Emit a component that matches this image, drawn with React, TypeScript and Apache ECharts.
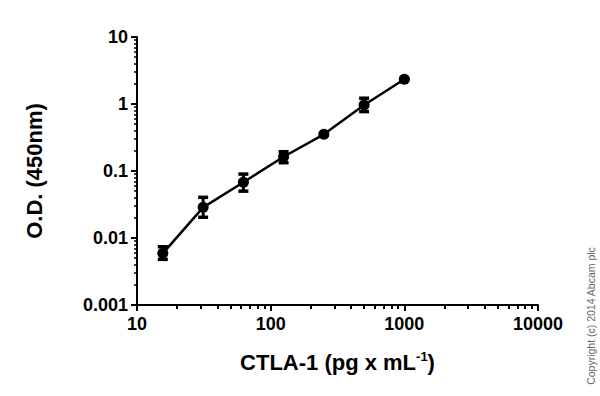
import React, { useEffect, useRef } from "react";
import * as echarts from "echarts";

const concentrations = [15.6, 31.25, 62.5, 125, 250, 500, 1000];
const odValues = [0.0059, 0.0287, 0.0678, 0.163, 0.353, 0.966, 2.34];
const errLow = [0.0048, 0.0204, 0.05, 0.133, 0.34, 0.77, 2.28];
const errHigh = [0.0074, 0.0405, 0.09, 0.194, 0.366, 1.22, 2.4];

const xMajorTicks = [10, 100, 1000, 10000];
const yMajorTicks = [0.001, 0.01, 0.1, 1, 10];

const minorBetween = (majors: number[]) => {
  const out: number[] = [];
  for (let i = 0; i < majors.length - 1; i++) {
    for (let k = 2; k <= 9; k++) out.push(Number((majors[i] * k).toPrecision(3)));
  }
  return out;
};

const FONT = "'Liberation Sans', Arial, sans-serif";

export default function App() {
  const ref = useRef<HTMLDivElement>(null);
  useEffect(() => {
    if (!ref.current) return;
    const chart = echarts.init(ref.current, undefined, { renderer: "svg" });
    const fmt = (v: number) => String(Number(Number(v).toPrecision(3)));
    const errData = concentrations.map((c, i) => [c, odValues[i], errLow[i], errHigh[i]]);
    chart.setOption({
      animation: false,
      backgroundColor: "#ffffff",
      grid: { left: 137, right: 62, top: 37, bottom: 91 },
      xAxis: [
        {
          type: "log",
          logBase: 10,
          min: 10,
          max: 10000,
          name: "{a|CTLA-1 (pg x mL}{s|-1}{a|)}",
          nameLocation: "middle",
          nameGap: 45,
          nameTextStyle: {
            rich: {
              a: { fontFamily: FONT, fontWeight: "bold", fontSize: 22, color: "#000" },
              s: { fontFamily: FONT, fontWeight: "bold", fontSize: 13, color: "#000", padding: [0, 0, 12, 0] },
            },
          },
          axisLine: { lineStyle: { color: "#000", width: 2 } },
          axisTick: { show: true, length: 6, lineStyle: { color: "#000", width: 2 }, customValues: xMajorTicks },
          axisLabel: {
            customValues: xMajorTicks,
            formatter: fmt,
            margin: 10,
            fontFamily: FONT,
            fontWeight: "bold",
            fontSize: 18,
            color: "#000",
          },
          splitLine: { show: false },
        },
        {
          type: "log",
          logBase: 10,
          min: 10,
          max: 10000,
          position: "bottom",
          axisLine: { show: false },
          axisTick: { show: true, length: 4, lineStyle: { color: "#000", width: 2 }, customValues: minorBetween(xMajorTicks) },
          axisLabel: { show: false },
          splitLine: { show: false },
        },
      ],
      yAxis: [
        {
          type: "log",
          logBase: 10,
          min: 0.001,
          max: 10,
          name: "O.D. (450nm)",
          nameLocation: "middle",
          nameRotate: 90,
          nameGap: 92,
          nameTextStyle: { fontFamily: FONT, fontWeight: "bold", fontSize: 22, color: "#000" },
          axisLine: { show: true, lineStyle: { color: "#000", width: 2 } },
          axisTick: { show: true, length: 6, lineStyle: { color: "#000", width: 2 }, customValues: yMajorTicks },
          axisLabel: {
            customValues: yMajorTicks,
            formatter: fmt,
            margin: 9,
            fontFamily: FONT,
            fontWeight: "bold",
            fontSize: 18,
            color: "#000",
          },
          splitLine: { show: false },
        },
        {
          type: "log",
          logBase: 10,
          min: 0.001,
          max: 10,
          position: "left",
          axisLine: { show: false },
          axisTick: { show: true, length: 3, lineStyle: { color: "#000", width: 1.5 }, customValues: minorBetween(yMajorTicks) },
          axisLabel: { show: false },
          splitLine: { show: false },
        },
      ],
      series: [
        {
          type: "line",
          data: concentrations.map((c, i) => [c, odValues[i]]),
          symbol: "circle",
          symbolSize: 11,
          itemStyle: { color: "#000" },
          lineStyle: { color: "#000", width: 2.5 },
          z: 3,
        },
        {
          type: "custom",
          data: errData,
          z: 4,
          renderItem: (params: any, api: any) => {
            const x = api.value(0);
            const lo = api.coord([x, api.value(2)]);
            const hi = api.coord([x, api.value(3)]);
            const hw = 5;
            const style = { stroke: "#000", lineWidth: 3 };
            return {
              type: "group",
              children: [
                { type: "line", shape: { x1: lo[0], y1: lo[1], x2: hi[0], y2: hi[1] }, style },
                { type: "line", shape: { x1: lo[0] - hw, y1: lo[1], x2: lo[0] + hw, y2: lo[1] }, style: { stroke: "#000", lineWidth: 3.5 } },
                { type: "line", shape: { x1: hi[0] - hw, y1: hi[1], x2: hi[0] + hw, y2: hi[1] }, style: { stroke: "#000", lineWidth: 3.5 } },
              ],
            };
          },
        },
      ],
      graphic: [
        {
          type: "text",
          x: 591,
          y: 316,
          rotation: Math.PI / 2,
          style: {
            text: "Copyright (c) 2014 Abcam plc",
            fontFamily: FONT,
            fontSize: 10.5,
            fill: "#666",
            align: "center",
            verticalAlign: "middle",
          },
        },
      ],
    });
    return () => chart.dispose();
  }, []);
  return <div ref={ref} style={{ width: 600, height: 396, position: "absolute", left: 0, top: 0 }} />;
}
